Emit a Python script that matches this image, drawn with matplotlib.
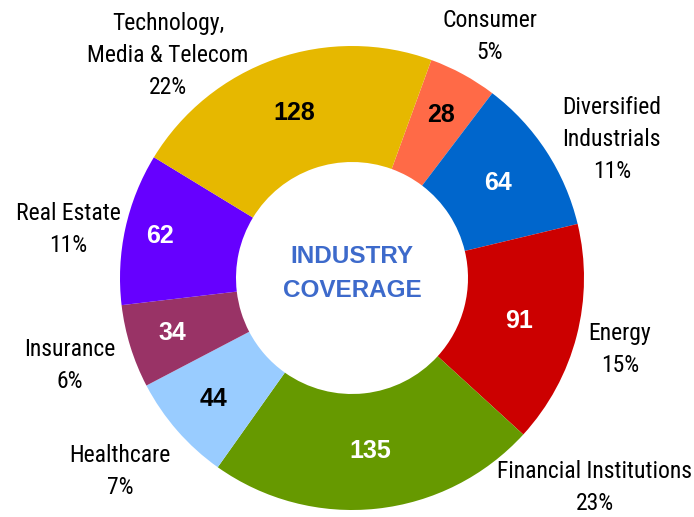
import matplotlib
matplotlib.use('Agg')
import matplotlib.pyplot as plt
import numpy as np

# industry coverage counts, clockwise from the top
names = ['Consumer', 'Diversified\nIndustrials', 'Energy', 'Financial Institutions',
         'Healthcare', 'Insurance', 'Real Estate', 'Technology,\nMedia & Telecom']
counts = [28, 64, 91, 135, 44, 34, 62, 128]
pcts = [5, 11, 15, 23, 7, 6, 11, 22]
colors = ['#FF6A47', '#0066CC', '#CC0000', '#669900',
          '#99CCFF', '#993366', '#6600FF', '#E6B800']
num_colors = ['black', 'white', 'white', 'white', 'black', 'white', 'white', 'black']

# label placement (pie radius = 1)
num_r = [0.80, 0.75, 0.745, 0.75, 0.79, 0.81, 0.845, 0.755]
label_xy = [(0.595, 1.04), (1.12, 0.595), (1.155, -0.31), (1.047, -0.905),
            (-1.0, -0.836), (-1.216, -0.375), (-1.224, 0.207), (-0.793, 0.961)]

narrow = ['Roboto Condensed', 'DejaVu Sans']
arial = ['Liberation Sans', 'DejaVu Sans']

fig = plt.figure(figsize=(6.94, 5.17), dpi=100)
ax = fig.add_axes([0, 0, 1, 1])
wedges, _ = ax.pie(counts, colors=colors, startangle=70, counterclock=False,
                   radius=1.0, wedgeprops=dict(width=0.5, linewidth=0))

for w, n, c, r in zip(wedges, counts, num_colors, num_r):
    ang = np.deg2rad((w.theta1 + w.theta2) / 2)
    ax.text(r * np.cos(ang), r * np.sin(ang), str(n), ha='center', va='center',
            fontsize=18, fontweight='bold', color=c, family=arial)

for (x, y), nm, p in zip(label_xy, names, pcts):
    ax.text(x, y, '%s\n%d%%' % (nm, p), ha='center', va='center', fontsize=17,
            family=narrow, linespacing=1.5)

ax.text(0, 0.02, 'INDUSTRY\nCOVERAGE', ha='center', va='center', fontsize=17.5,
        fontweight='bold', color='#3D6ACB', family=arial, linespacing=1.65)

ax.set_xlim(-352 / 232, 342 / 232)
ax.set_ylim(-239 / 232, 278 / 232)
ax.set_aspect('auto')
ax.axis('off')
fig.savefig('out.png', dpi=100)
